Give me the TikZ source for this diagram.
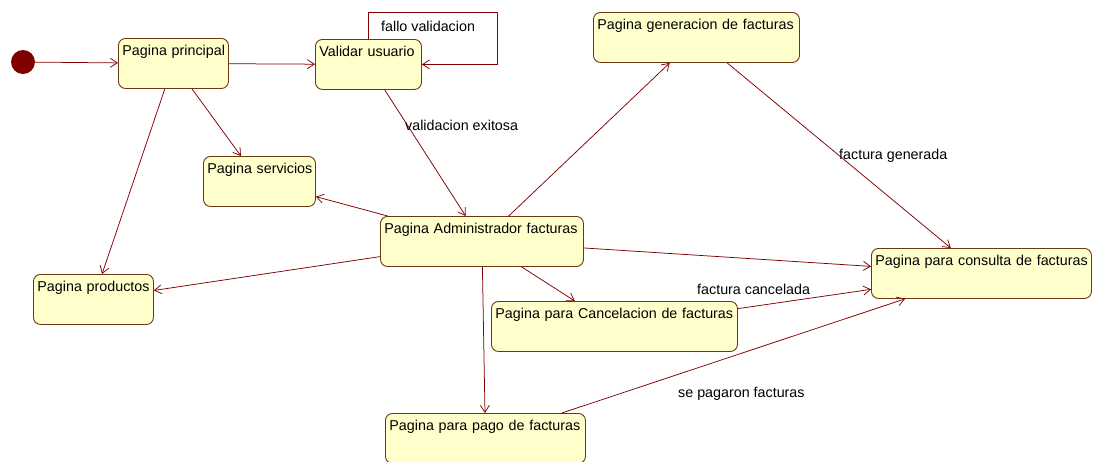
\documentclass[tikz,border=0pt]{standalone}
\usepackage{fontspec}
\setmainfont{Liberation Sans}
\usetikzlibrary{arrows.meta}
\definecolor{rellenoestado}{RGB}{255,255,204}
\definecolor{bordeestado}{RGB}{110,55,20}
\definecolor{transicion}{RGB}{128,0,0}
\begin{document}
\begin{tikzpicture}[x=1pt,y=-1pt,>={Straight Barb[length=7pt,width=9pt]},line join=round,line cap=round]
				\tikzset{estado/.style={draw=bordeestado,fill=rellenoestado,rounded corners=7pt,anchor=north west,align=left,inner xsep=4pt,inner ysep=0pt,text height=17pt,text depth=33pt,font=\fontsize{14.3}{16}\selectfont,line width=0.9pt,
						execute at begin node={\hbox to \linewidth\bgroup},execute at end node={\hss\egroup}},
					flecha/.style={->,draw=transicion,line width=0.75pt},
					etiqueta/.style={anchor=west,inner sep=0pt,font=\fontsize{14.3}{16}\selectfont}}
				\useasboundingbox (0,0) rectangle (1093,461);
				%%Estados del diagrama
				\node[circle,fill=transicion,minimum size=24pt,inner sep=0pt] (inicio) at (23,62) {};
				\node[estado,text width=102pt] (principal) at (118,38) {Pagina principal};
				\node[estado,text width=98pt] (validar) at (315,39) {Validar usuario};
				\node[estado,text width=198pt] (generacion) at (593,12) {Pagina generacion de facturas};
				\node[estado,text width=104pt] (servicios) at (203,156) {Pagina servicios};
				\node[estado,text width=195pt] (admin) at (380,216) {Pagina Administrador facturas};
				\node[estado,text width=112pt] (productos) at (33,274) {Pagina productos};
				\node[estado,text width=212pt] (consulta) at (871,248) {Pagina para consulta de facturas};
				\node[estado,text width=238pt] (cancelacion) at (491,301) {Pagina para Cancelacion de facturas};
				\node[estado,text width=192pt] (pago) at (385,413) {Pagina para pago de facturas};
				%%Transiciones
				\draw[flecha] (inicio) -- (principal);
				\draw[flecha] (principal) -- (validar);
				\draw[flecha] (principal) -- (productos);
				\draw[flecha] (principal) -- (servicios);
				\coordinate (bucle) at (497,12);
				\draw[flecha] (validar.north) |- (bucle) |- (validar.east);
				\draw[flecha] (validar) -- (admin);
				\draw[flecha] (admin) -- (generacion);
				\draw[flecha] (generacion) -- (consulta);
				\draw[flecha] (admin) -- (servicios);
				\draw[flecha] (admin) -- (productos);
				\draw[flecha] (admin) -- (consulta);
				\draw[flecha] (admin) -- (cancelacion);
				\draw[flecha] (admin) -- (pago);
				\draw[flecha] (cancelacion) -- (consulta);
				\draw[flecha] (pago) -- (consulta);
				%%Etiquetas
				\node[etiqueta] (fallo) at (381,26) {fallo validacion};
				\node[etiqueta] (exitosa) at (405,125) {validacion exitosa};
				\node[etiqueta] (generada) at (839,156) {factura generada};
				\node[etiqueta] (cancelada) at (697,289) {factura cancelada};
				\node[etiqueta] (pagaron) at (678,394) {se pagaron facturas};
		\end{tikzpicture}
\end{document}
